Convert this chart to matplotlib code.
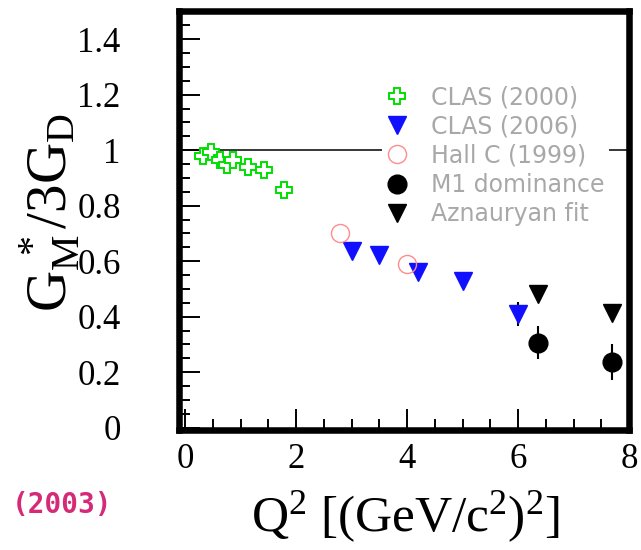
import matplotlib
matplotlib.use("Agg")
import matplotlib.pyplot as plt
from matplotlib.ticker import MultipleLocator

plt.rcParams["font.family"] = ["Liberation Serif", "DejaVu Serif"]
plt.rcParams["mathtext.fontset"] = "custom"
plt.rcParams["mathtext.rm"] = "Liberation Serif"
plt.rcParams["mathtext.it"] = "Liberation Serif:italic"

# CLAS (2000)
clas00_q2 = [0.32, 0.46, 0.62, 0.75, 0.87, 1.14, 1.42, 1.79]
clas00_g = [0.978, 0.995, 0.965, 0.948, 0.965, 0.938, 0.928, 0.855]

# CLAS (2006)
clas06_q2 = [3.0, 3.5, 4.2, 5.0, 6.0]
clas06_g = [0.638, 0.624, 0.561, 0.529, 0.41]
clas06_err = [0.0, 0.0, 0.0, 0.0, 0.043]

# Hall C (1999)
hallc_q2 = [2.8, 4.0]
hallc_g = [0.701, 0.590]

# M1 dominance
m1_q2 = [6.36, 7.70]
m1_g = [0.307, 0.237]
m1_err = [0.058, 0.065]

# Aznauryan fit
azn_q2 = [6.36, 7.70]
azn_g = [0.483, 0.412]

legend_labels = ["CLAS (2000)", "CLAS (2006)", "Hall C (1999)", "M1 dominance", "Aznauryan fit"]

fig = plt.figure(figsize=(6.41, 5.5), dpi=100)
ax = fig.add_axes([0.2793, 0.2173, 0.702, 0.7618])

ax.axhline(1.0, color="black", lw=1.1, zorder=1)

ax.plot(clas00_q2, clas00_g, "P", ms=11, mfc="white", mec="#00e000", mew=1.4,
        ls="none", label=legend_labels[0], zorder=3)
ax.errorbar(clas06_q2, clas06_g, yerr=clas06_err, fmt="none", ecolor="black", elinewidth=1.5, zorder=2)
ax.plot(clas06_q2, clas06_g, "v", ms=13, color="#1010ff", ls="none", label=legend_labels[1], zorder=3)
ax.plot(hallc_q2, hallc_g, "o", ms=13, mfc="none", mec="#ff8c8c", mew=1.0,
        ls="none", label=legend_labels[2], zorder=3)
ax.errorbar(m1_q2, m1_g, yerr=m1_err, fmt="none", ecolor="black", elinewidth=1.5, zorder=2)
ax.plot(m1_q2, m1_g, "o", ms=13.5, color="black", ls="none", label=legend_labels[3], zorder=3)
ax.plot(azn_q2, azn_g, "v", ms=13, color="black", ls="none", label=legend_labels[4], zorder=3)

ax.set_xlim(-0.11, 8.0)
ax.set_ylim(-0.01, 1.50)

ax.xaxis.set_major_locator(MultipleLocator(2))
ax.xaxis.set_minor_locator(MultipleLocator(0.5))
ax.yaxis.set_minor_locator(MultipleLocator(0.05))
ax.set_yticks([0, 0.2, 0.4, 0.6, 0.8, 1.0, 1.2, 1.4])
ax.set_yticklabels(["0", "0.2", "0.4", "0.6", "0.8", "1", "1.2", "1.4"])

ax.tick_params(which="both", direction="in", top=False, right=False, width=1.4)
ax.tick_params(which="major", length=15)
ax.tick_params(which="minor", length=8)
ax.tick_params(axis="y", which="major", pad=42, labelsize=25)
ax.tick_params(axis="x", which="major", pad=9, labelsize=25)

for side in ["left", "right", "top", "bottom"]:
    ax.spines[side].set_linewidth(4.7)
    ax.spines[side].set_capstyle("projecting")

leg = ax.legend(loc="upper left", bbox_to_anchor=(0.45, 0.835), frameon=True,
                facecolor="white", edgecolor="none", framealpha=1.0, fancybox=False,
                borderaxespad=0, borderpad=0.2, labelspacing=0.22, handlelength=0.95,
                handletextpad=0.95, numpoints=1, prop={"family": "DejaVu Sans", "size": 17})
for txt in leg.get_texts():
    txt.set_color("#a8a8a8")

fig.text(50 / 641, 1 - 212 / 550, r"$\mathrm{G_M^{\ *}/3G_D}$", rotation=90,
         ha="center", va="center", fontsize=41)
fig.text(405 / 641, 1 - 517 / 550, r"$\mathrm{Q^2\ [(GeV/c^2)^2]}$",
         ha="center", va="center", fontsize=37)
fig.text(12 / 641, 1 - 505 / 550, "(2003)", ha="left", va="center", fontsize=20,
         family="DejaVu Sans Mono", weight="bold", color="#d42a78")

fig.savefig("out.png", dpi=100)
